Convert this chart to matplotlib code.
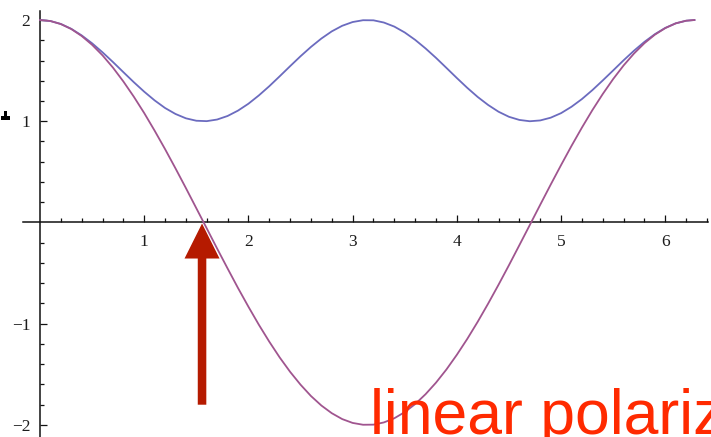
import matplotlib
matplotlib.use("Agg")
import matplotlib.pyplot as plt
from matplotlib.patches import FancyArrow, Rectangle

# Sampled curves on 0 .. 2*pi
x_vals = [0.0, 0.1, 0.2, 0.3, 0.4, 0.5, 0.6, 0.7, 0.8, 0.9,
          1.0, 1.1, 1.2, 1.3, 1.4, 1.5, 1.6, 1.7, 1.8, 1.9,
          2.0, 2.1, 2.2, 2.3, 2.4, 2.5, 2.6, 2.7, 2.8, 2.9,
          3.0, 3.1, 3.2, 3.3, 3.4, 3.5, 3.6, 3.7, 3.8, 3.9,
          4.0, 4.1, 4.2, 4.3, 4.4, 4.5, 4.6, 4.7, 4.8, 4.9,
          5.0, 5.1, 5.2, 5.3, 5.4, 5.5, 5.6, 5.7, 5.8, 5.9,
          6.0, 6.1, 6.2, 6.28]

upper_curve = [2.000, 1.990, 1.961, 1.913, 1.848, 1.770, 1.681, 1.585, 1.485, 1.386,
               1.292, 1.206, 1.131, 1.072, 1.029, 1.005, 1.001, 1.017, 1.052, 1.105,
               1.173, 1.255, 1.346, 1.444, 1.544, 1.642, 1.734, 1.817, 1.888, 1.943,
               1.980, 1.998, 1.997, 1.975, 1.935, 1.877, 1.804, 1.719, 1.626, 1.527,
               1.427, 1.330, 1.240, 1.161, 1.094, 1.044, 1.013, 1.000, 1.008, 1.035,
               1.080, 1.143, 1.219, 1.307, 1.403, 1.502, 1.602, 1.697, 1.784, 1.860,
               1.922, 1.967, 1.993, 2.000]

lower_curve = [2.000, 1.990, 1.960, 1.911, 1.842, 1.755, 1.651, 1.530, 1.393, 1.243,
               1.081, 0.907, 0.725, 0.535, 0.340, 0.141, -0.058, -0.258, -0.454, -0.647,
               -0.832, -1.010, -1.177, -1.333, -1.475, -1.602, -1.714, -1.808, -1.884, -1.942,
               -1.980, -1.998, -1.997, -1.975, -1.934, -1.873, -1.794, -1.696, -1.582, -1.452,
               -1.307, -1.150, -0.981, -0.802, -0.615, -0.422, -0.224, -0.025, 0.175, 0.373,
               0.567, 0.756, 0.937, 1.109, 1.269, 1.417, 1.551, 1.669, 1.771, 1.855,
               1.920, 1.967, 1.993, 2.000]

x_ticks = [1, 2, 3, 4, 5, 6]
x_tick_labels = ["1", "2", "3", "4", "5", "6"]
y_ticks = [-2, -1, 1, 2]
y_tick_labels = ["\u22122", "\u22121", "1", "2"]
x_minor = [0.2, 0.4, 0.6, 0.8, 1.2, 1.4, 1.6, 1.8, 2.2, 2.4, 2.6, 2.8,
           3.2, 3.4, 3.6, 3.8, 4.2, 4.4, 4.6, 4.8, 5.2, 5.4, 5.6, 5.8,
           6.2, 6.4]
y_minor = [-2.0 + 0.2 * k for k in range(21) if k % 5 != 0]

arrow_x = 1.555
arrow_tail_y = -1.80
arrow_tip_y = -0.01
caption = "linear polarization"

W, H = 711, 437
fig = plt.figure(figsize=(W / 100, H / 100), dpi=100)
ax = fig.add_axes([23 / W, 0.0, 685 / W, 426 / H])
ax.set_xlim(-0.163, 6.41)
ax.set_ylim(-2.119, 2.089)

ax.plot(x_vals, upper_curve, color="#6b6bbf", lw=1.3, zorder=3)
ax.plot(x_vals, lower_curve, color="#a0558f", lw=1.3, zorder=4)

# Axes through the origin
for side in ("top", "right"):
    ax.spines[side].set_visible(False)
ax.spines["left"].set_position(("data", 0))
ax.spines["bottom"].set_position(("data", 0))
for side in ("left", "bottom"):
    ax.spines[side].set_linewidth(1.1)
    ax.spines[side].set_color("#111111")

ax.set_xticks(x_ticks)
ax.set_xticklabels(x_tick_labels)
ax.set_yticks(y_ticks)
ax.set_yticklabels(y_tick_labels)
ax.set_xticks(x_minor, minor=True)
ax.set_yticks(y_minor, minor=True)
ax.tick_params(which="major", direction="in", length=5, width=0.9, color="#111111")
ax.tick_params(which="minor", direction="in", length=3, width=0.9, color="#111111")
ax.tick_params(axis="x", which="major", pad=8)
ax.tick_params(axis="y", which="major", pad=7)
for lab in ax.get_xticklabels() + ax.get_yticklabels():
    lab.set_fontfamily("Liberation Serif")
    lab.set_fontsize(12.5)
    lab.set_color("#1c1c1c")
ax.patch.set_visible(False)

arrow = FancyArrow(arrow_x, arrow_tail_y, 0, arrow_tip_y - arrow_tail_y,
                   width=0.082, head_width=0.336, head_length=0.346,
                   length_includes_head=True, color="#b51a00", lw=0, zorder=6)
ax.add_patch(arrow)

# small mark at the left edge
fig.patches.append(Rectangle((1 / W, (H - 120) / H), 9 / W, 4 / H,
                             transform=fig.transFigure, color="black", lw=0))
fig.patches.append(Rectangle((4 / W, (H - 116) / H), 3 / W, 5 / H,
                             transform=fig.transFigure, color="black", lw=0))

fig.text(370 / W, (H - 434) / H, caption, color="#ff2a00",
         fontfamily="Liberation Sans", fontsize=45, va="baseline", ha="left",
         zorder=10)

fig.savefig("out.png", dpi=100)
